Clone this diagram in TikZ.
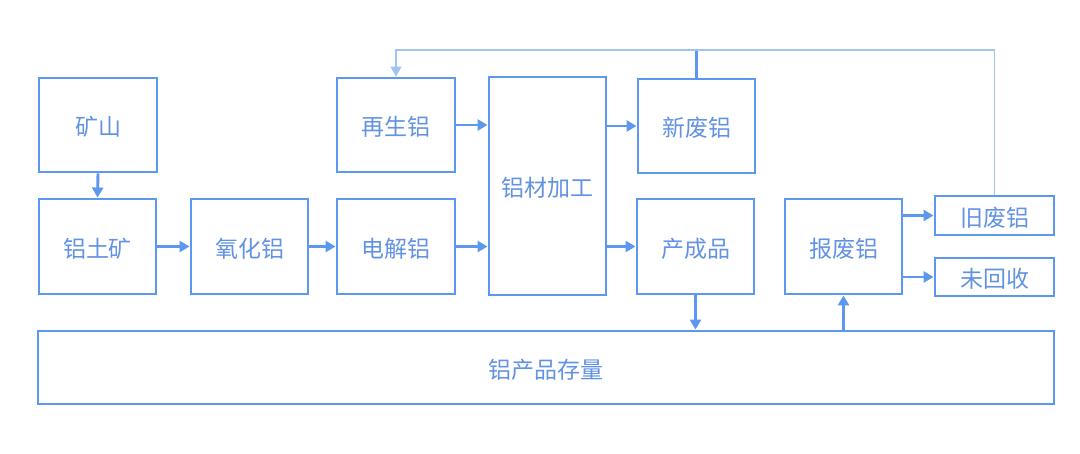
\documentclass[tikz,border=0pt]{standalone}
\usepackage{fontspec}
\setmainfont{Noto Sans CJK SC}
\usetikzlibrary{arrows.meta}
\definecolor{lineblue}{RGB}{92,152,240}
\definecolor{textblue}{RGB}{98,146,228}
\definecolor{lightblue}{RGB}{160,196,242}
\tikzset{
  box/.style={draw=lineblue, line width=2.9pt, inner sep=0pt, text=textblue,
    font=\fontsize{23}{27}\selectfont, text height=22pt, text depth=0pt},
  flow/.style={draw=lineblue, line width=2.9pt, -{Triangle[length=10pt,width=11pt]}},
  fb/.style={draw=lightblue, line width=1.2pt},
}
\begin{document}
\begin{tikzpicture}[x=1pt,y=-1pt]
\useasboundingbox[fill=white] (0,0) rectangle (1080,454);
\node[box, minimum width=118pt, minimum height=94pt] (ks) at (98,125) {矿山};
\node[box, minimum width=117pt, minimum height=95pt] (lt) at (97.5,246.5) {铝土矿};
\node[box, minimum width=117pt, minimum height=95pt] (yh) at (249.5,246.5) {氧化铝};
\node[box, minimum width=118pt, minimum height=95pt] (dj) at (396,246.5) {电解铝};
\node[box, minimum width=118pt, minimum height=94pt] (zs) at (396,125) {再生铝};
\node[box, minimum width=117pt, minimum height=218pt] (jg) at (547.5,186) {铝材加工};
\node[box, minimum width=117pt, minimum height=94pt] (xf) at (696.5,126) {新废铝};
\node[box, minimum width=117pt, minimum height=95pt] (cp) at (695.5,246.5) {产成品};
\node[box, minimum width=117pt, minimum height=95pt] (bf) at (843.5,246.5) {报废铝};
\node[box, minimum width=119pt, minimum height=39pt] (jf) at (994.5,215.5) {旧废铝};
\node[box, minimum width=119pt, minimum height=38pt] (wh) at (994.5,277) {未回收};
\node[box, minimum width=1016pt, minimum height=73pt] (cl) at (546,367.5) {铝产品存量};
\coordinate (top) at (696.5,50);

\draw[flow] (ks.south) -- (lt.north);
\draw[flow] (lt.east) -- (yh.west);
\draw[flow] (yh.east) -- (dj.west);
\draw[flow] (dj.east) -- (dj.east -| jg.west);
\draw[flow] (zs.east) -- (zs.east -| jg.west);
\draw[flow] (xf.west -| jg.east) -- (xf.west);
\draw[flow] (cp.west -| jg.east) -- (cp.west);
\draw[flow] (jf.west -| bf.east) -- (jf.west);
\draw[flow] (wh.west -| bf.east) -- (wh.west);
\draw[flow] (cp.south) -- (cp.south |- cl.north);
\draw[flow] (bf.south |- cl.north) -- (bf.south);
\draw[draw=lineblue, line width=2.9pt] (xf.north) -- (top);
\draw[fb] (jf.north) |- (top);
\draw[fb, -{Triangle[length=10pt,width=11pt]}] (top) -| (zs.north);
\end{tikzpicture}
\end{document}
